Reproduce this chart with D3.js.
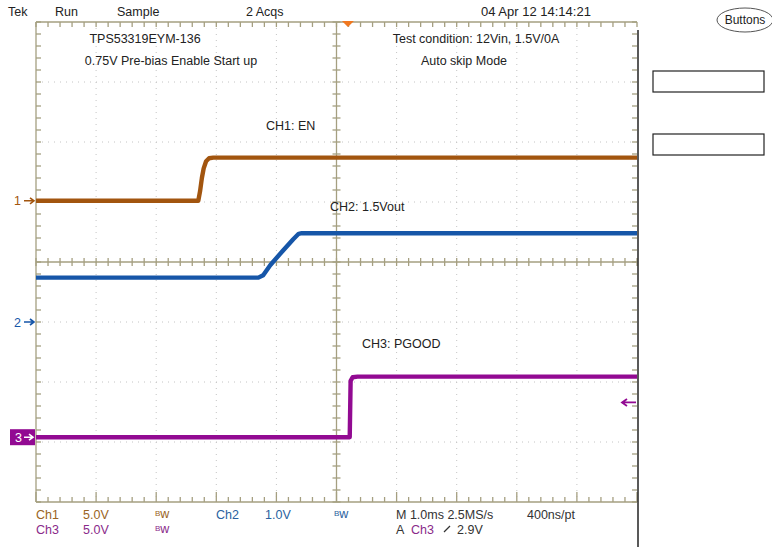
<!DOCTYPE html>
<html><head><meta charset="utf-8">
<script src="https://cdn.jsdelivr.net/npm/d3@7"></script>
<style>body{margin:0;background:#fff}svg{display:block;font-family:"Liberation Sans",Arial,sans-serif}</style>
</head><body><svg id="c" width="772" height="547"></svg>
<script>
// ---- data ----
// time in ms (10 divisions at 1.0 ms/div, centred on trigger), values in volts
const ch1Time = [-5, -2.30, -2.27, -2.24, -2.21, -2.17, -2.12, -2.05, 5];
const ch1Volt = [0, 0, 0.8, 1.9, 2.7, 3.3, 3.55, 3.6, 3.6];
const ch2Time = [-5, -1.30, -1.22, -1.10, -0.90, -0.72, -0.63, -0.58, 5];
const ch2Volt = [0.74, 0.74, 0.78, 0.95, 1.18, 1.38, 1.47, 1.48, 1.48];
const ch3Time = [-5, 0.22, 0.235, 0.27, 0.35, 5];
const ch3Volt = [0, 0, 4.7, 5.0, 5.05, 5.05];
const channelNames = ["Ch1", "Ch2", "Ch3"];
const voltsPerDiv = [5.0, 1.0, 5.0];
const offsetDiv = [1.02, -1.0, -2.92];
const triggerLevel = 2.9;
const triggerTime = 0.19;
const xTicksMs = [-5, -4, -3, -2, -1, 0, 1, 2, 3, 4, 5];
const yTicksDiv = [-4, -3, -2, -1, 0, 1, 2, 3, 4];
const colors = ["#a2550f", "#1656a8", "#920a92"];
const textColors = ["#9a6424", "#2a62a0", "#8a2a8a"];

// ---- scales ----
const svg = d3.select("#c");
const x = d3.scaleLinear().domain([-5, 5]).range([36, 637]);
const y = d3.scaleLinear().domain([-4, 4]).range([502, 22]);
const frameCol = "#a59f80";

// grid dots
const g = svg.append("g");
xTicksMs.slice(1, -1).filter(d => d !== 0).forEach(t => {
  g.append("line").attr("x1", x(t)).attr("x2", x(t)).attr("y1", y(4)).attr("y2", y(-4))
    .attr("stroke", "#c4c4c4").attr("stroke-dasharray", "1,5");
});
yTicksDiv.slice(1, -1).filter(d => d !== 0).forEach(v => {
  g.append("line").attr("y1", y(v)).attr("y2", y(v)).attr("x1", x(-5)).attr("x2", x(5))
    .attr("stroke", "#c4c4c4").attr("stroke-dasharray", "1,5");
});

// frame and crosshair with minor ticks
const minorX = d3.range(-5, 5.001, 0.2);
const minorY = d3.range(-4, 4.001, 0.2);
const fr = svg.append("g").attr("stroke", frameCol).attr("stroke-width", 1.3);
fr.append("line").attr("x1", x(-5)).attr("x2", x(5)).attr("y1", y(4)).attr("y2", y(4));
fr.append("line").attr("x1", x(-5)).attr("x2", x(5)).attr("y1", y(-4)).attr("y2", y(-4));
fr.append("line").attr("x1", x(-5)).attr("x2", x(-5)).attr("y1", y(4)).attr("y2", y(-4));
fr.append("line").attr("x1", x(0)).attr("x2", x(0)).attr("y1", y(4)).attr("y2", y(-4));
fr.append("line").attr("x1", x(-5)).attr("x2", x(5)).attr("y1", y(0)).attr("y2", y(0));
minorX.forEach(t => {
  const major = Math.abs(t - Math.round(t)) < 1e-6;
  fr.append("line").attr("x1", x(t)).attr("x2", x(t)).attr("y1", y(4)).attr("y2", y(4) + 5);
  fr.append("line").attr("x1", x(t)).attr("x2", x(t)).attr("y1", y(-4)).attr("y2", y(-4) - (major ? 10 : 5));
  fr.append("line").attr("x1", x(t)).attr("x2", x(t)).attr("y1", y(0) - 4).attr("y2", y(0) + 4);
});
minorY.forEach(v => {
  fr.append("line").attr("x1", x(-5)).attr("x2", x(-5) + 5).attr("y1", y(v)).attr("y2", y(v));
  fr.append("line").attr("x1", x(5)).attr("x2", x(5) - 5).attr("y1", y(v)).attr("y2", y(v));
  fr.append("line").attr("x1", x(0) - 4).attr("x2", x(0) + 4).attr("y1", y(v)).attr("y2", y(v));
});

// right panel separator
svg.append("line").attr("x1", 638).attr("x2", 638).attr("y1", 30).attr("y2", 547)
  .attr("stroke", "#222").attr("stroke-width", 1.5);

// traces
const series = [[ch1Time, ch1Volt], [ch2Time, ch2Volt], [ch3Time, ch3Volt]];
series.forEach(([ts, vs], i) => {
  const pts = ts.map((t, k) => [t, vs[k] / voltsPerDiv[i] + offsetDiv[i]]);
  svg.append("path").datum(pts)
    .attr("d", d3.line().x(d => x(d[0])).y(d => y(d[1])))
    .attr("fill", "none").attr("stroke", colors[i]).attr("stroke-width", 4.4)
    .attr("stroke-linejoin", "round");
});

// channel markers
const txt = (s, px, py, opts = {}) => svg.append("text").attr("x", px).attr("y", py)
  .attr("font-size", opts.size || 12.5).attr("fill", opts.fill || "#222")
  .attr("text-anchor", opts.anchor || "start").text(s);
[0, 1].forEach(i => {
  const yy = y(offsetDiv[i]);
  txt(String(i + 1), 14, yy + 4.5, {fill: colors[i]});
  svg.append("path").attr("d", `M24,${yy}H34M30,${yy - 3}L34,${yy}L30,${yy + 3}`)
    .attr("stroke", colors[i]).attr("stroke-width", 1.6).attr("fill", "none");
});
{
  const yy = y(offsetDiv[2]);
  svg.append("rect").attr("x", 10).attr("y", yy - 8).attr("width", 25).attr("height", 16).attr("fill", colors[2]);
  txt("3", 15, yy + 4.5, {fill: "#fff"});
  svg.append("path").attr("d", `M24,${yy}H33M29,${yy - 3}L33,${yy}L29,${yy + 3}`)
    .attr("stroke", "#fff").attr("stroke-width", 1.6).attr("fill", "none");
}
// trigger level arrow
{
  const yy = y(triggerLevel / voltsPerDiv[2] + offsetDiv[2]);
  svg.append("path").attr("d", `M623,${yy}H636M627,${yy - 3.5}L622,${yy}L627,${yy + 3.5}`)
    .attr("stroke", colors[2]).attr("stroke-width", 1.8).attr("fill", "none");
}
// trigger position marker
svg.append("path").attr("d", `M${x(triggerTime) - 6},${y(4) - 1}L${x(triggerTime) + 6},${y(4) - 1}L${x(triggerTime)},${y(4) + 5}Z`)
  .attr("fill", "#f07820");

// header
txt("Tek", 8, 16); txt("Run", 55, 16); txt("Sample", 117, 16); txt("2 Acqs", 246, 16);
txt("04 Apr 12 14:14:21", 481, 16, {size: 13});
// annotations
txt("TPS53319EYM-136", 145, 43, {anchor: "middle"});
txt("0.75V Pre-bias Enable Start up", 171, 65, {anchor: "middle"});
txt("Test condition: 12Vin, 1.5V/0A", 476, 43, {anchor: "middle"});
txt("Auto skip Mode", 464, 65, {anchor: "middle"});
txt("CH1: EN", 266, 130);
txt("CH2: 1.5Vout", 330, 211);
txt("CH3: PGOOD", 362, 348);

// footer
txt(channelNames[0], 36, 519, {fill: textColors[0]});
txt(voltsPerDiv[0].toFixed(1) + "V", 83, 519, {fill: textColors[0]});
txt(channelNames[1], 216, 519, {fill: textColors[1]});
txt(voltsPerDiv[1].toFixed(1) + "V", 265, 519, {fill: textColors[1]});
txt(channelNames[2], 36, 534, {fill: textColors[2]});
txt(voltsPerDiv[2].toFixed(1) + "V", 83, 534, {fill: textColors[2]});
const bw = (px, py, c) => {
  const t = svg.append("text").attr("x", px).attr("y", py).attr("fill", c).attr("font-size", 12.5);
  t.append("tspan").attr("font-size", 8).attr("dy", -2).text("B");
  t.append("tspan").attr("dy", 2).text("w");
};
bw(155, 518, textColors[0]); bw(334, 518, textColors[1]); bw(155, 533, textColors[2]);
txt("M 1.0ms 2.5MS/s", 396, 519, {fill: "#333"});
txt("400ns/pt", 527, 519, {fill: "#333"});
txt("A", 396, 534, {fill: "#333"});
txt("Ch3", 411, 534, {fill: textColors[2]});
svg.append("path").attr("d", "M444,532L450,526").attr("stroke", "#333").attr("stroke-width", 1.2);
txt("2.9V", 457, 534, {fill: "#333"});

// right panel
svg.append("ellipse").attr("cx", 745).attr("cy", 20).attr("rx", 28).attr("ry", 12)
  .attr("fill", "none").attr("stroke", "#555").attr("stroke-width", 1);
txt("Buttons", 745, 24, {anchor: "middle", size: 12});
svg.append("rect").attr("x", 653).attr("y", 71).attr("width", 111).attr("height", 21)
  .attr("fill", "none").attr("stroke", "#222").attr("stroke-width", 1.2);
svg.append("rect").attr("x", 653).attr("y", 134).attr("width", 111).attr("height", 21)
  .attr("fill", "none").attr("stroke", "#222").attr("stroke-width", 1.2);
</script></body></html>
